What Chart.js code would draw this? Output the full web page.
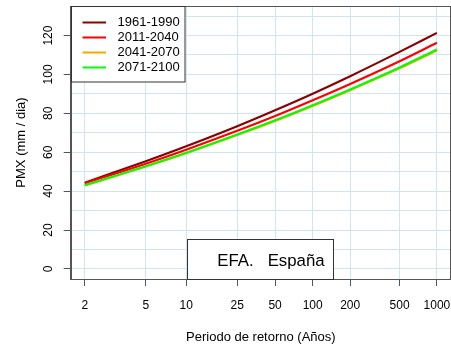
<!DOCTYPE html>
<html><head><meta charset="utf-8">
<script src="https://cdn.jsdelivr.net/npm/chart.js@4/dist/chart.umd.min.js"></script>
<style>html,body{margin:0;padding:0;background:#fff}</style>
</head><body>
<canvas id="c" width="451" height="346"></canvas>
<script>
// ---- data ----
const returnPeriods = [2, 5, 10, 25, 50, 100, 200, 500, 1000];
const seriesNames = ['1961-1990', '2011-2040', '2041-2070', '2071-2100'];
const seriesColors = ['#8B0000', '#FF0000', '#FFA500', '#00FF00'];
const pmx1961 = [44.3, 55.4, 63.1, 73.4, 81.6, 90.1, 99.1, 111.6, 121.4];
const pmx2011 = [44.0, 54.1, 61.3, 71.0, 78.6, 86.7, 95.1, 106.8, 116.3];
const pmx2041 = [42.9, 52.6, 59.5, 68.8, 76.1, 83.8, 91.9, 103.1, 112.3];
const pmx2071 = [43.0, 52.8, 59.7, 69.1, 76.4, 84.2, 92.3, 103.6, 112.8];
const yTickLabels = [0, 20, 40, 60, 80, 100, 120];
const yGridValues = [0, 10, 20, 30, 40, 50, 60, 70, 80, 90, 100, 110, 120, 130];
const boxLabel = 'EFA.   España';
const xTitle = 'Periodo de retorno (Años)';
const yTitle = 'PMX (mm / dia)';

const FONT = "'Liberation Sans', Arial, sans-serif";
// Gumbel reduced variate used as the x-axis coordinate
const gumbel = T => -Math.log(-Math.log(1 - 1 / T));
const allSeries = [pmx1961, pmx2011, pmx2041, pmx2071];

const datasets = allSeries.map((vals, k) => ({
  label: seriesNames[k],
  data: vals.map((v, i) => ({ x: gumbel(returnPeriods[i]), y: v })),
  borderColor: seriesColors[k],
  backgroundColor: seriesColors[k],
  borderWidth: 2.1,
  pointRadius: 0,
  cubicInterpolationMode: 'monotone',
  fill: false,
  order: allSeries.length - 1 - k
}));

const overlay = {
  id: 'overlay',
  afterDraw(chart) {
    const { ctx, chartArea: a } = chart;
    ctx.save();
    // plot box
    ctx.strokeStyle = '#555';
    ctx.lineWidth = 1;
    ctx.strokeRect(Math.round(a.left) + 0.5, Math.round(a.top) + 0.5,
                   Math.round(a.right) - Math.round(a.left) - 1, Math.round(a.bottom) - Math.round(a.top));
    // legend box (top-left)
    const lx = Math.round(a.left) + 0.5, ly = Math.round(a.top) + 0.5;
    const lw = 113.5, lh = 75.5;
    ctx.fillStyle = '#fff';
    ctx.fillRect(lx, ly, lw, lh);
    ctx.strokeStyle = '#333';
    ctx.strokeRect(lx, ly, lw, lh);
    ctx.font = '13px ' + FONT;
    ctx.textBaseline = 'middle';
    ctx.textAlign = 'left';
    seriesNames.forEach((name, k) => {
      const yy = ly + 16 + k * 15;
      ctx.strokeStyle = seriesColors[k];
      ctx.lineWidth = 2;
      ctx.beginPath(); ctx.moveTo(lx + 11, yy); ctx.lineTo(lx + 34.5, yy); ctx.stroke();
      ctx.fillStyle = '#000';
      ctx.fillText(name, lx + 46, yy);
    });
    // "EFA. España" box (bottom)
    const bx = 187.5, by = 239.5, bw = 146, bh = Math.round(a.bottom) - 239;
    ctx.fillStyle = '#fff';
    ctx.fillRect(bx, by, bw, bh);
    ctx.strokeStyle = '#333';
    ctx.lineWidth = 1;
    ctx.strokeRect(bx, by, bw, bh);
    ctx.fillStyle = '#000';
    ctx.font = '16.8px ' + FONT;
    ctx.textBaseline = 'alphabetic';
    ctx.fillText(boxLabel, 217.3, 266);
    ctx.restore();
  }
};

new Chart(document.getElementById('c'), {
  type: 'line',
  data: { datasets },
  plugins: [overlay],
  options: {
    responsive: false,
    animation: false,
    devicePixelRatio: 1,
    layout: { padding: { top: 6, left: 0, right: 0, bottom: 0 } },
    plugins: { legend: { display: false }, tooltip: { enabled: false } },
    scales: {
      x: {
        type: 'linear', min: 0.105, max: 7.169,
        afterBuildTicks: s => { s.ticks = returnPeriods.map(T => ({ value: gumbel(T) })); },
        afterFit: s => { s.height = 67; s.paddingLeft = 0; s.paddingRight = 0; },
        ticks: {
          autoSkip: false, maxRotation: 0, minRotation: 0, padding: 12,
          color: '#000', font: { family: FONT, size: 12 },
          callback: (v, i) => String(returnPeriods[i])
        },
        grid: { color: '#cfe6ef', lineWidth: 1, tickLength: 7, tickColor: '#555' },
        border: { display: true, color: '#555', width: 1 },
        title: { display: true, text: xTitle, color: '#000', font: { family: FONT, size: 13 }, padding: { top: 0, bottom: 1 } }
      },
      y: {
        type: 'linear', min: -5.2, max: 135.2,
        afterBuildTicks: s => { s.ticks = yGridValues.map(v => ({ value: v })); },
        afterFit: s => { s.width = 70.7; s.paddingTop = 0; s.paddingBottom = 0; },
        ticks: {
          autoSkip: false, minRotation: 90, maxRotation: 90, crossAlign: 'center', padding: 5,
          color: '#000', font: { family: FONT, size: 12 },
          callback: v => yTickLabels.includes(v) ? String(v) : ''
        },
        grid: {
          color: '#cfe6ef', lineWidth: 1, tickLength: 7,
          tickColor: c => (c.tick && yTickLabels.includes(c.tick.value)) ? '#555' : 'rgba(0,0,0,0)'
        },
        border: { display: true, color: '#555', width: 1 },
        title: { display: true, text: yTitle, color: '#000', font: { family: FONT, size: 13 }, padding: { top: 14, bottom: 0 } }
      }
    }
  }
});
</script>
</body></html>
